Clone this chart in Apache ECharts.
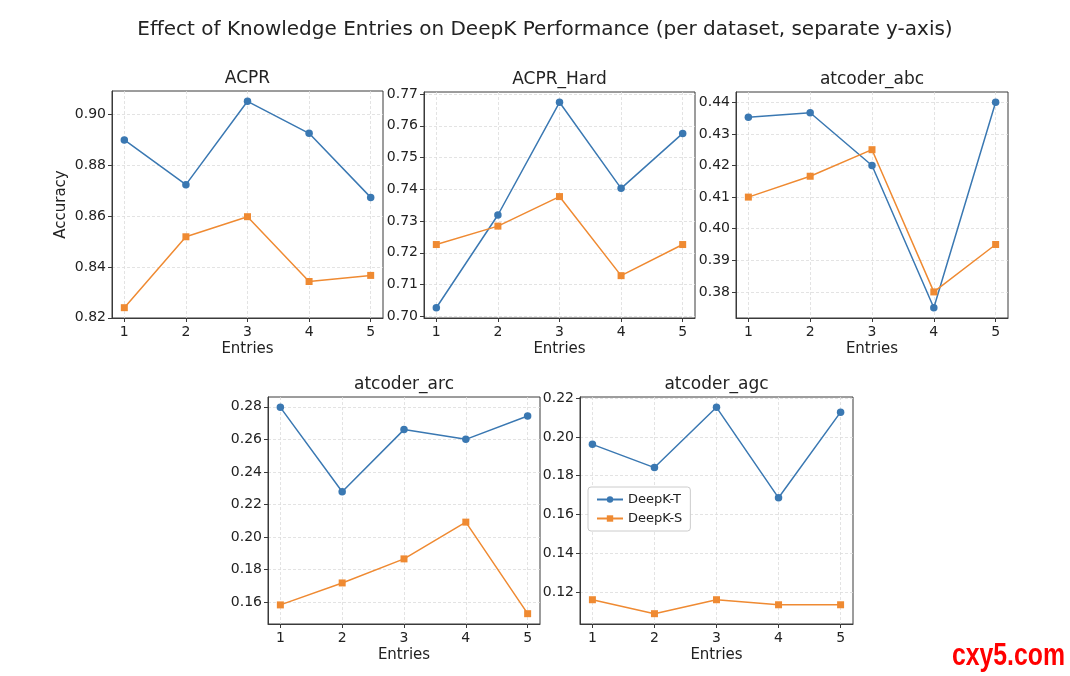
<!DOCTYPE html>
<html><head><meta charset="utf-8">
<script src="https://cdn.jsdelivr.net/npm/echarts@6/dist/echarts.min.js"></script>
<style>html,body{margin:0;padding:0;background:#fff}#c{width:1070px;height:676px}</style>
</head><body><div id="c"></div>
<script>
const entries = [1, 2, 3, 4, 5];
const datasets = ['ACPR', 'ACPR_Hard', 'atcoder_abc', 'atcoder_arc', 'atcoder_agc'];
const seriesNames = ['DeepK-T', 'DeepK-S'];
const acprT = [0.8900, 0.8724, 0.9052, 0.8926, 0.8674];
const acprS = [0.8240, 0.8519, 0.8598, 0.8343, 0.8367];
const acprHardT = [0.7027, 0.7319, 0.7674, 0.7403, 0.7576];
const acprHardS = [0.7226, 0.7284, 0.7377, 0.7128, 0.7226];
const abcT = [0.4353, 0.4367, 0.4200, 0.3750, 0.4400];
const abcS = [0.4100, 0.4166, 0.4250, 0.3800, 0.3950];
const arcT = [0.2797, 0.2278, 0.2660, 0.2600, 0.2744];
const arcS = [0.1582, 0.1717, 0.1865, 0.2091, 0.1528];
const agcT = [0.1962, 0.1842, 0.2153, 0.1686, 0.2128];
const agcS = [0.1160, 0.1088, 0.1160, 0.1134, 0.1134];
const yTickSteps = [0.02, 0.01, 0.01, 0.02, 0.02];
const xTicks = [1, 2, 3, 4, 5];

const dataT = [acprT, acprHardT, abcT, arcT, agcT];
const dataS = [acprS, acprHardS, abcS, arcS, agcS];

const grids = [
  {left: 112, top: 91, width: 271, height: 227},
  {left: 424, top: 92, width: 271, height: 226},
  {left: 736, top: 92, width: 272, height: 226},
  {left: 268, top: 397, width: 272, height: 227},
  {left: 580, top: 397, width: 273, height: 227}
];
const FONT = "'DejaVu Sans', sans-serif";
const BLUE = '#3a78b2';
const ORANGE = '#ef8a32';
const FRAME = '#3a3a3a';

const option = {
  animation: false,
  backgroundColor: '#fff',
  grid: [], xAxis: [], yAxis: [], series: [],
  graphic: [],
  legend: {
    left: 588, top: 487, orient: 'vertical',
    data: seriesNames,
    backgroundColor: '#fff', borderColor: '#cccccc', borderWidth: 1, borderRadius: 3,
    padding: [6, 8, 6, 8], itemGap: 6, itemWidth: 26, itemHeight: 8,
    textStyle: {fontFamily: FONT, fontSize: 13, color: '#222'}
  }
};

option.graphic.push({type: 'text', x: 545, y: 30,
  style: {text: 'Effect of Knowledge Entries on DeepK Performance (per dataset, separate y-axis)',
    font: "20px " + FONT, fill: '#222', textAlign: 'center', textVerticalAlign: 'middle'}});
option.graphic.push({type: 'text', x: 1065, y: 656, scaleX: 0.8,
  style: {text: 'cxy5.com', font: "bold 31px 'Liberation Sans', sans-serif",
    fill: '#ff0000', textAlign: 'right', textVerticalAlign: 'middle'}});

datasets.forEach((name, k) => {
  const g = grids[k];
  option.grid.push(Object.assign({show: true, borderColor: FRAME, borderWidth: 1, backgroundColor: 'transparent'}, g));
  const all = dataT[k].concat(dataS[k]);
  const lo = Math.min(...all), hi = Math.max(...all);
  const m = (hi - lo) * 0.05;
  const ymin = lo - m, ymax = hi + m;
  const step = yTickSteps[k];
  const yt = [];
  for (let v = Math.ceil(ymin / step - 1e-6) * step; v <= ymax + 1e-9; v += step) yt.push(+v.toFixed(4));
  option.xAxis.push({
    type: 'value', gridIndex: k, min: 0.8, max: 5.2,
    name: 'Entries', nameLocation: 'middle', nameGap: 24,
    nameTextStyle: {fontFamily: FONT, fontSize: 15, color: '#222'},
    axisLine: {show: true, lineStyle: {color: FRAME, width: 1}},
    axisTick: {show: true, length: 4, customValues: xTicks, lineStyle: {color: FRAME}},
    axisLabel: {customValues: xTicks, fontFamily: FONT, fontSize: 14, color: '#222', margin: 7},
    splitLine: {show: true, lineStyle: {color: '#dcdcdc', type: [3, 2], width: 0.8}}
  });
  option.yAxis.push({
    type: 'value', gridIndex: k, min: ymin, max: ymax,
    name: k === 0 ? 'Accuracy' : '', nameLocation: 'middle', nameGap: 43,
    nameTextStyle: {fontFamily: FONT, fontSize: 15, color: '#222'},
    axisLine: {show: true, lineStyle: {color: FRAME, width: 1}},
    axisTick: {show: true, length: 4, customValues: yt, lineStyle: {color: FRAME}},
    axisLabel: {customValues: yt, fontFamily: FONT, fontSize: 14, color: '#222', margin: 6,
      formatter: v => v.toFixed(2)},
    splitLine: {show: true, lineStyle: {color: '#dcdcdc', type: [3, 2], width: 0.8}}
  });
  option.series.push({
    name: seriesNames[0], type: 'line', xAxisIndex: k, yAxisIndex: k,
    data: entries.map((x, i) => [x, dataT[k][i]]),
    symbol: 'circle', symbolSize: 7.5, color: BLUE,
    lineStyle: {width: 1.5, color: BLUE}, itemStyle: {color: BLUE}
  });
  option.series.push({
    name: seriesNames[1], type: 'line', xAxisIndex: k, yAxisIndex: k,
    data: entries.map((x, i) => [x, dataS[k][i]]),
    symbol: 'rect', symbolSize: 7, color: ORANGE,
    lineStyle: {width: 1.5, color: ORANGE}, itemStyle: {color: ORANGE}
  });
  option.graphic.push({type: 'text', x: g.left + g.width / 2, y: g.top - 12,
    style: {text: name, font: "17px " + FONT, fill: '#222', textAlign: 'center', textVerticalAlign: 'middle'}});
});

const chart = echarts.init(document.getElementById('c'), null, {renderer: 'canvas'});
chart.setOption(option);
</script></body></html>
